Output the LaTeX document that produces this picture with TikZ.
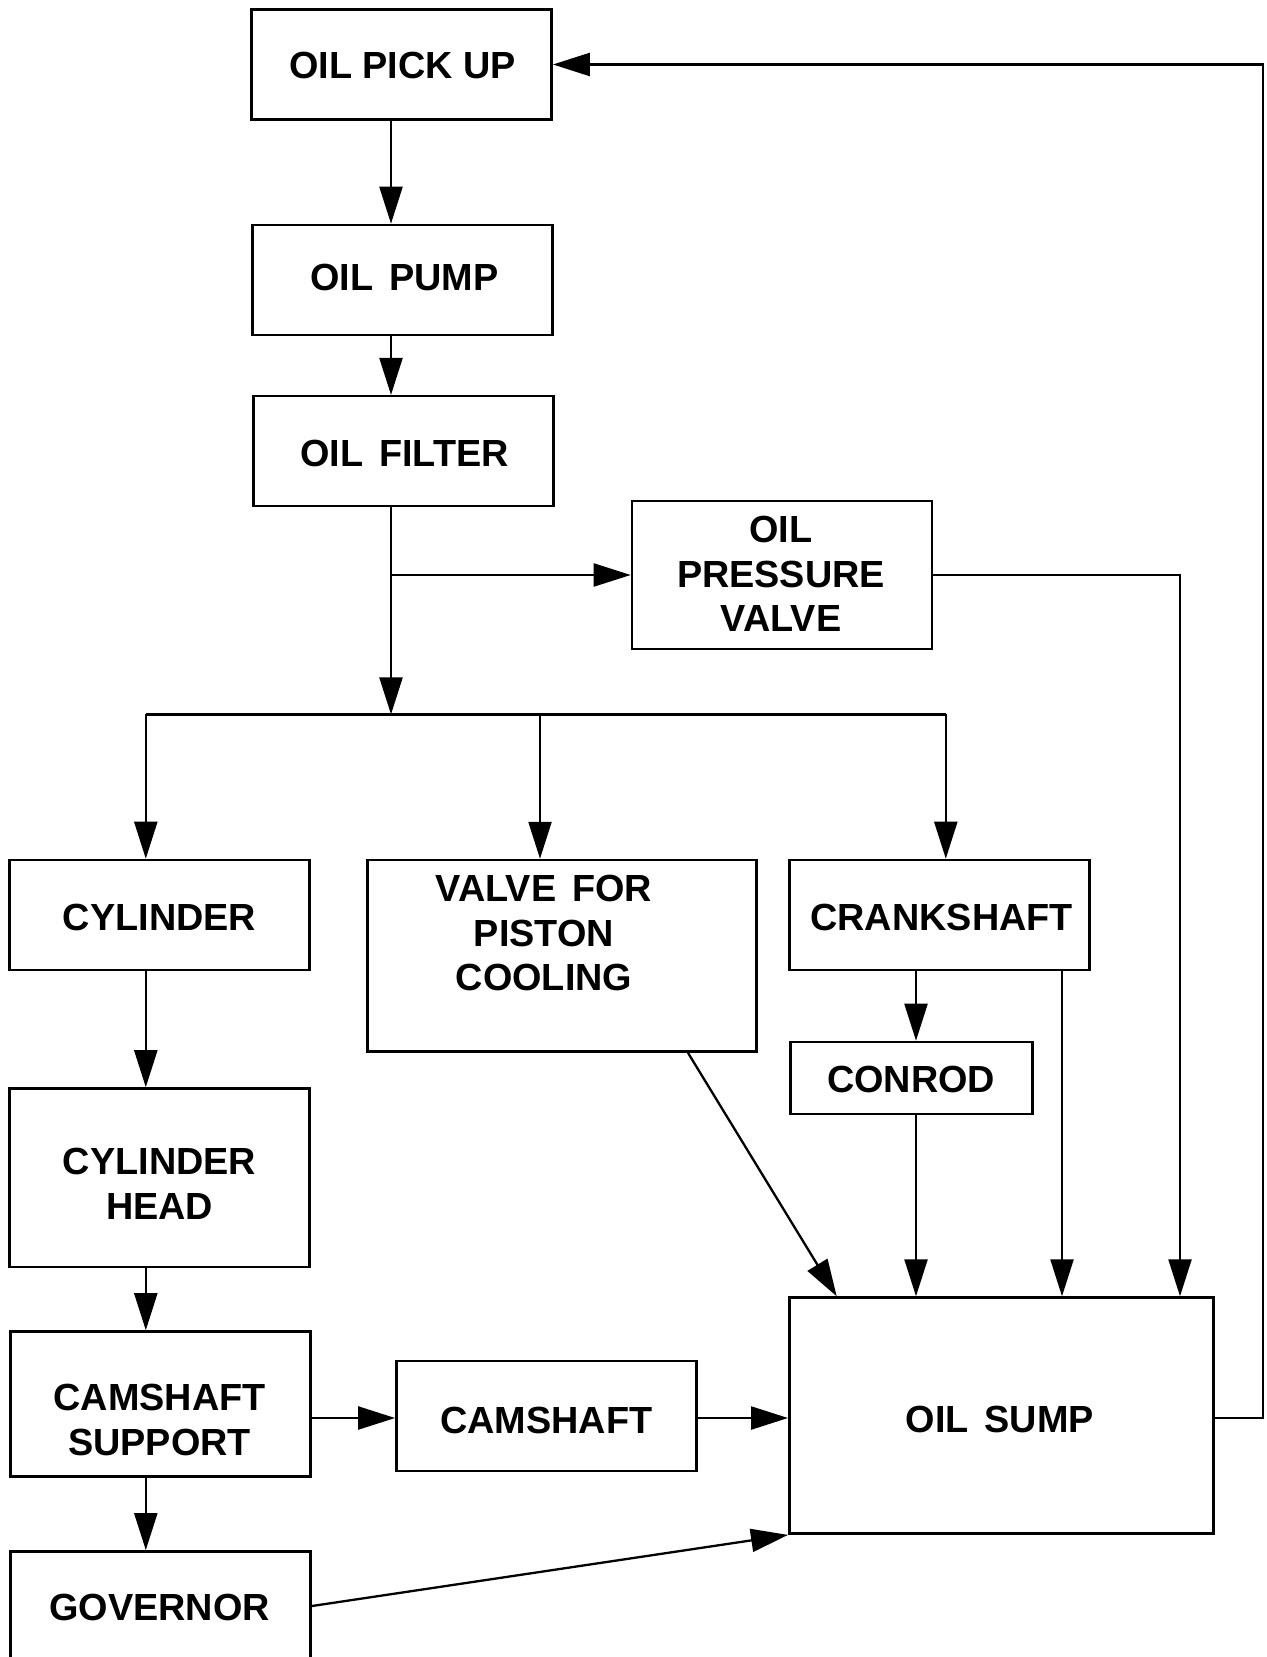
\documentclass[tikz,border=0pt]{standalone}
\usepackage{fontspec}
\setmainfont{Liberation Sans}
\usetikzlibrary{arrows.meta}
\newcommand{\gapsp}{\hspace{0.42em}}
\begin{document}
\begin{tikzpicture}[x=0.5pt,y=-0.5pt,
  box/.style={draw, line width=1.3pt, inner sep=0pt, minimum width=150pt, minimum height=55pt},
  lbl/.style={inner sep=0pt, align=center, font=\bfseries\fontsize{18.9}{22.25}\selectfont},
  conn/.style={line width=1.15pt},
  arr/.style={line width=1.15pt, -{Triangle[length=18.5pt,width=11.5pt]}}]
\useasboundingbox (0,0) rectangle (1266,1657);
\clip (0,0) rectangle (1266,1657);
\fill[white] (0,0) rectangle (1266,1657);
% boxes
\node[box] (pickup) at (401.6,64.5) {};
\node[box] (pump) at (402.6,280) {};
\node[box] (filter) at (403.7,451.2) {};
\node[box, minimum height=74pt] (pv) at (782,575) {};
\node[box] (cyl) at (159.6,915) {};
\node[box, minimum width=194.5pt, minimum height=95.75pt] (piston) at (562.2,955.8) {};
\node[box] (crank) at (939.5,915) {};
\node[box, minimum width=121pt, minimum height=36pt] (conrod) at (911.5,1078) {};
\node[box, minimum height=89.3pt] (head) at (159.6,1177.8) {};
\node[box, minimum height=72.5pt] (support) at (160.6,1404) {};
\node[box] (camshaft) at (546.4,1416) {};
\node[box, minimum width=212pt, minimum height=118pt] (sump) at (1001.3,1415.6) {};
\node[box, minimum height=65pt] (governor) at (160.6,1616.4) {};
% labels
\node[lbl] (t1) at (402.6,65.5) {OIL PICK UP};
\node[lbl] (t2) at (404.5,277) {OIL\gapsp PUMP};
\node[lbl] (t3) at (404.5,453) {OIL\gapsp FILTER};
\node[lbl] (t4) at (781,574) {OIL\\PRESSURE\\VALVE};
\node[lbl] (t5) at (159.6,917) {CYLINDER};
\node[lbl] (t6) at (544,933) {VALVE\gapsp FOR\\PISTON\\COOLING};
\node[lbl] (t7) at (941.6,917) {CRANKSHAFT};
\node[lbl] (t8) at (911,1079) {CONROD};
\node[lbl] (t9) at (159.6,1183.6) {CYLINDER\\HEAD};
\node[lbl] (t10) at (159.6,1420) {CAMSHAFT\\SUPPORT};
\node[lbl] (t11) at (546.4,1420) {CAMSHAFT};
\node[lbl] (t12) at (999.7,1419) {OIL\gapsp SUMP};
\node[lbl] (t13) at (159.6,1607) {GOVERNOR};
% helper coordinates
\coordinate (xMain) at (391,0);
\coordinate (xCyl) at (145.8,0);
\coordinate (xPist) at (540,0);
\coordinate (xCrank) at (945.8,0);
\coordinate (xConrod) at (916,0);
\coordinate (xCrankR) at (1062,0);
\coordinate (xPV) at (1180,0);
\coordinate (xLoop) at (1263,0);
\coordinate (xPD) at (688,0);
\coordinate (xPD2) at (836.7,0);
\coordinate (yDist) at (0,714.4);
\coordinate (yCam) at (0,1418);
\coordinate (yGov) at (0,1606);
\coordinate (dist) at (xMain |- yDist);
\coordinate (distL) at (xCyl |- yDist);
\coordinate (distM) at (xPist |- yDist);
\coordinate (distR) at (xCrank |- yDist);
\coordinate (pvJ) at (xMain |- pv.west);
% connectors
\draw[arr] (pickup.south -| xMain) -- (pump.north -| xMain);
\draw[arr] (pump.south -| xMain) -- (filter.north -| xMain);
\draw[arr] (filter.south -| xMain) -- (dist);
\draw[arr] (pvJ) -- (pv.west);
\draw[arr] (pv.east) -| (sump.north -| xPV);
\draw[conn] (distL) -- (distR);
\draw[arr] (distL) -- (cyl.north -| xCyl);
\draw[arr] (distM) -- (piston.north -| xPist);
\draw[arr] (distR) -- (crank.north -| xCrank);
\draw[arr] (cyl.south -| xCyl) -- (head.north -| xCyl);
\draw[arr] (head.south -| xCyl) -- (support.north -| xCyl);
\draw[arr] (support.south -| xCyl) -- (governor.north -| xCyl);
\draw[arr] (support.east |- yCam) -- (camshaft.west |- yCam);
\draw[arr] (camshaft.east |- yCam) -- (sump.west |- yCam);
\draw[arr] (governor.east |- yGov) -- (sump.south west);
\draw[arr] (piston.south -| xPD) -- (sump.north -| xPD2);
\draw[arr] (crank.south -| xConrod) -- (conrod.north -| xConrod);
\draw[arr] (conrod.south -| xConrod) -- (sump.north -| xConrod);
\draw[arr] (crank.south -| xCrankR) -- (sump.north -| xCrankR);
\draw[arr] (sump.east |- yCam) -| (xLoop |- pickup.east) -- (pickup.east);
\end{tikzpicture}
\end{document}
